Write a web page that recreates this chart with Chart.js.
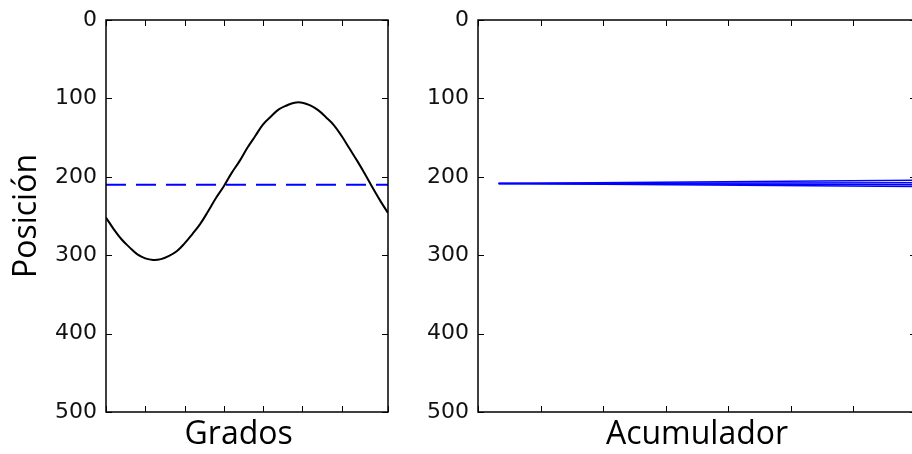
<!DOCTYPE html>
<html>
<head>
<meta charset="utf-8">
<script src="https://cdn.jsdelivr.net/npm/chart.js@4"></script>
<style>
  html, body { margin: 0; padding: 0; background: #fff; overflow: hidden; }
  #wrap { position: relative; width: 912px; height: 454px; overflow: hidden; }
  .panel { position: absolute; top: 0; }
  #left { left: 0; }
  #right { left: 400px; }
</style>
</head>
<body>
<div id="wrap">
  <div class="panel" id="left"><canvas id="grados" width="400" height="454"></canvas></div>
  <div class="panel" id="right"><canvas id="acum" width="526" height="454"></canvas></div>
</div>
<script>
// posición frente a ángulo (grados)
const angulos = [0, 10, 20, 30, 40, 50, 60, 70, 80, 90, 100, 110, 120, 130, 140, 150, 160, 170, 180,
                 190, 200, 210, 220, 230, 240, 250, 260, 270, 280, 290, 300, 310, 320, 330, 340, 350, 359];
const posicion = [252, 267, 280, 290, 299, 304, 306, 305, 301, 295, 285, 273, 260, 244, 227, 212, 195, 180, 163,
                  148, 133, 123, 114, 109, 105.5, 105.5, 109, 115, 124, 134, 148, 164, 180, 197, 215, 232, 246];
const mediaX = [0, 359];
const media = [210, 210];

// acumulador: trazas casi horizontales
const acumX = [0.33, 7];
const trazas = [
  [208.5, 204.5],
  [208.5, 207.5],
  [208.5, 210],
  [208.5, 212.5]
];

const yMin = 0, yMax = 500, yPaso = 100;

const fuenteTicks = { family: 'DejaVu Sans', size: 22, lineHeight: 1 };
const fuenteTitulo = { family: 'Open Sans', size: 32 };

// marco completo con marcas hacia dentro en los cuatro lados
const marcoEjes = {
  id: 'marcoEjes',
  afterDraw(chart) {
    const { ctx, chartArea: a, scales: { x, y } } = chart;
    const len = 6;
    ctx.save();
    ctx.strokeStyle = '#000';
    ctx.lineWidth = 1;
    ctx.beginPath();
    x.ticks.forEach(t => {
      const px = Math.round(x.getPixelForValue(t.value)) + 0.5;
      ctx.moveTo(px, a.bottom); ctx.lineTo(px, a.bottom - len);
      ctx.moveTo(px, a.top); ctx.lineTo(px, a.top + len);
    });
    y.ticks.forEach(t => {
      const py = Math.round(y.getPixelForValue(t.value)) + 0.5;
      ctx.moveTo(a.left, py); ctx.lineTo(a.left + len, py);
      ctx.moveTo(a.right, py); ctx.lineTo(a.right - len, py);
    });
    ctx.stroke();
    ctx.lineWidth = 1.5;
    ctx.strokeRect(a.left, a.top, a.right - a.left, a.bottom - a.top);
    ctx.restore();
  }
};

function ejeY(titulo, ancho) {
  return {
    reverse: true,
    min: yMin, max: yMax,
    grid: { display: false, drawTicks: false, tickLength: 0 },
    border: { display: false },
    ticks: { stepSize: yPaso, color: '#111', font: fuenteTicks, padding: 9 },
    title: { display: !!titulo, text: titulo, color: '#000', font: fuenteTitulo, padding: { top: 8, bottom: 0 } },
    afterFit(s) { s.width = ancho; }
  };
}

function ejeX(titulo, max, paso) {
  return {
    type: 'linear',
    min: 0, max: max,
    grid: { display: false, drawTicks: false, tickLength: 0 },
    border: { display: false },
    ticks: { display: false, stepSize: paso },
    title: { display: true, text: titulo, color: '#000', font: fuenteTitulo, padding: { top: 0, bottom: 0 } },
    afterFit(s) { s.height = 42; }
  };
}

const comunes = {
  responsive: false,
  animation: false,
  events: [],
  plugins: { legend: { display: false }, tooltip: { enabled: false } }
};

new Chart(document.getElementById('grados'), {
  type: 'line',
  data: {
    datasets: [
      {
        data: angulos.map((a, i) => ({ x: a, y: posicion[i] })),
        borderColor: '#000',
        borderWidth: 2,
        pointRadius: 0,
        tension: 0.4
      },
      {
        data: mediaX.map((a, i) => ({ x: a, y: media[i] })),
        borderColor: '#0000ff',
        borderWidth: 2,
        borderDash: [20, 10],
        pointRadius: 0
      }
    ]
  },
  options: {
    ...comunes,
    layout: { padding: { top: 18, right: 12, left: 0, bottom: 0 } },
    scales: {
      // espacios finales: la etiqueta queda algo a la izquierda del centro
      x: ejeX('Grados  ', 359, 50),
      y: ejeY('Posición', 106)
    }
  },
  plugins: [marcoEjes]
});

new Chart(document.getElementById('acum'), {
  type: 'line',
  data: {
    datasets: trazas.map(t => ({
      data: acumX.map((a, i) => ({ x: a, y: t[i] })),
      borderColor: '#0000ff',
      borderWidth: 1.5,
      pointRadius: 0
    }))
  },
  options: {
    ...comunes,
    layout: { padding: { top: 18, right: 10, left: 0, bottom: 0 } },
    scales: {
      x: ejeX('Acumulador', 7, 1),
      y: ejeY('', 78)
    }
  },
  plugins: [marcoEjes]
});
</script>
</body>
</html>
